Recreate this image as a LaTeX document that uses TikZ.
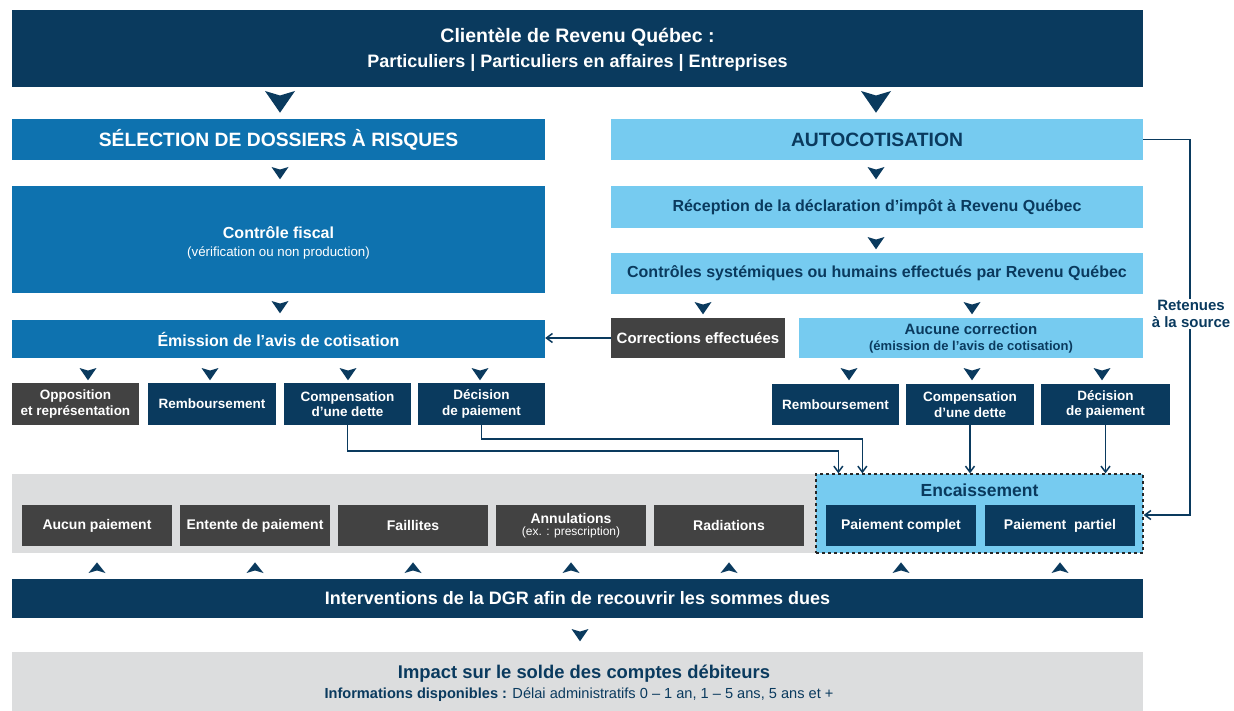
\documentclass[tikz,border=0pt]{standalone}
\usepackage{fontspec}
\setmainfont{Liberation Sans}
\usetikzlibrary{arrows.meta}
\definecolor{navy}{HTML}{0A3A5E}
\definecolor{midblue}{HTML}{0E72AF}
\definecolor{lightblue}{HTML}{76CBF0}
\definecolor{darkgray}{HTML}{424242}
\definecolor{bandgray}{HTML}{DCDDDE}
\tikzset{
  box/.style={inner sep=0pt, align=center, font=\bfseries},
  navybox/.style={box, fill=navy, text=white},
  midbox/.style={box, fill=midblue, text=white},
  lightbox/.style={box, fill=lightblue, text=navy},
  graybox/.style={box, fill=darkgray, text=white},
  txt/.style={inner sep=0pt, align=center, font=\bfseries},
  conn/.style={draw=navy, line width=1.5pt, -{Straight Barb[length=6pt,width=9pt]}},
  chev/.pic={\fill[navy] (-1,0) -- (0,0.3) -- (1,0) -- (0,1.45) -- cycle;},
  chevup/.pic={\fill[navy] (-1,0) -- (0,-0.3) -- (1,0) -- (0,-1.25) -- cycle;},
}
\newcommand{\fs}[2]{\fontsize{#1}{#2}\selectfont}
\begin{document}
\begin{tikzpicture}[x=1pt,y=-1pt]
\useasboundingbox (0,0) rectangle (1234,711);
\fill[white] (0,0) rectangle (1234,711);

% top banner
\node[navybox, minimum width=1131pt, minimum height=77pt] (top) at (577.5,48.5) {};
\node[txt, text=white, font=\bfseries\fs{19.5}{24}] (t1) at (577.5,37) {Clientèle de Revenu Québec :};
\node[txt, text=white, font=\bfseries\fs{18}{22}] (t2) at (577.5,63) {Particuliers | Particuliers en affaires | Entreprises};
\pic[scale=15] at (280,91) {chev};
\pic[scale=15] at (876,91) {chev};

% level 1
\node[midbox, minimum width=533pt, minimum height=41pt, font=\bfseries\fs{19.3}{22}] (sel) at (278.5,139.5) {SÉLECTION DE DOSSIERS À RISQUES};
\node[lightbox, minimum width=532pt, minimum height=41pt, font=\bfseries\fs{19.3}{22}] (auto) at (877,139.5) {AUTOCOTISATION};
\pic[scale=8.5] at (280,167) {chev};
\pic[scale=8.5] at (876,167) {chev};

% left column
\node[midbox, minimum width=533pt, minimum height=107pt] (cf) at (278.5,239.5) {};
\node[txt, text=white, font=\bfseries\fs{16}{20}] (cft) at (278.5,233) {Contrôle fiscal};
\node[txt, text=white, font=\fs{13.3}{16}] (cfs) at (278.5,253) {(vérification ou non production)};
\pic[scale=8.5] at (280,301) {chev};
\node[midbox, minimum width=533pt, minimum height=38pt, font=\bfseries\fs{16}{20}] (emis) at (278.5,339) {Émission de l’avis de cotisation};

% right column
\node[lightbox, minimum width=532pt, minimum height=42pt, font=\bfseries\fs{16}{20}] (rec) at (877,207) {Réception de la déclaration d’impôt à Revenu Québec};
\pic[scale=8.5] at (876,237) {chev};
\node[lightbox, minimum width=532pt, minimum height=41pt, font=\bfseries\fs{16}{20}] (csys) at (877,273.5) {Contrôles systémiques ou humains effectués par Revenu Québec};
\pic[scale=8.5] at (703,302) {chev};
\pic[scale=8.5] at (972,302) {chev};
\node[graybox, minimum width=174pt, minimum height=40pt, font=\bfseries\fs{15}{18}] (corr) at (698,338) {Corrections effectuées};
\node[lightbox, minimum width=344pt, minimum height=40pt] (auc) at (971,338) {};
\node[txt, text=navy, font=\bfseries\fs{15}{18}] (auct) at (971,329) {Aucune correction};
\node[txt, text=navy, font=\bfseries\fs{13}{16}] (aucs) at (971,347) {(émission de l’avis de cotisation)};
\draw[conn] (corr.west) -- (corr.west -| emis.east);

% left small boxes
\foreach \x in {88,210,348,480} {\pic[scale=8.5] at (\x,368) {chev};}
\node[graybox, minimum width=127pt, minimum height=42pt, font=\bfseries\fs{13.5}{15.5}] (oppL) at (75.5,404) {Opposition\\et représentation};
\node[navybox, minimum width=128pt, minimum height=42pt, font=\bfseries\fs{13.5}{15.5}] (rembL) at (212,404) {Remboursement};
\node[navybox, minimum width=127pt, minimum height=42pt, font=\bfseries\fs{13.5}{15.5}] (compL) at (347.5,404) {Compensation\\d’une dette};
\node[navybox, minimum width=127pt, minimum height=42pt, font=\bfseries\fs{13.5}{15.5}] (decL) at (481.5,404) {Décision\\de paiement};

% right small boxes
\foreach \x in {849,972,1102} {\pic[scale=8.5] at (\x,368) {chev};}
\node[navybox, minimum width=127pt, minimum height=41pt, font=\bfseries\fs{13.5}{15.5}] (rembR) at (835.5,404.5) {Remboursement};
\node[navybox, minimum width=128pt, minimum height=41pt, font=\bfseries\fs{13.5}{15.5}] (compR) at (970,404.5) {Compensation\\d’une dette};
\node[navybox, minimum width=129pt, minimum height=41pt, font=\bfseries\fs{13.5}{15.5}] (decR) at (1105.5,404.5) {Décision\\de paiement};

% band
\fill[bandgray] (12,474) rectangle (1143,553);
\node[box, fill=lightblue, draw=black!85, dashed, line width=1.3pt, minimum width=327pt, minimum height=79pt] (enc) at (979.5,513.5) {};
\node[txt, text=navy, font=\bfseries\fs{17.5}{20}] (enct) at (979.5,490) {Encaissement};

\node[graybox, minimum width=150pt, minimum height=41pt, font=\bfseries\fs{14}{16}] (g1) at (97,525.5) {Aucun paiement};
\node[graybox, minimum width=150pt, minimum height=41pt, font=\bfseries\fs{14}{16}] (g2) at (255,525.5) {Entente de paiement};
\node[graybox, minimum width=150pt, minimum height=41pt, font=\bfseries\fs{14}{16}] (g3) at (413,525.5) {Faillites};
\node[graybox, minimum width=150pt, minimum height=41pt] (g4) at (571,525.5) {{\fs{14}{16}Annulations}\\{\mdseries\fs{12}{13}(ex. : prescription)}};
\node[graybox, minimum width=150pt, minimum height=41pt, font=\bfseries\fs{14}{16}] (g5) at (729,525.5) {Radiations};
\node[navybox, minimum width=150pt, minimum height=41pt, font=\bfseries\fs{14}{16}] (pc) at (901,525.5) {Paiement complet};
\node[navybox, minimum width=150pt, minimum height=41pt, font=\bfseries\fs{14}{16}] (pp) at (1060,525.5) {Paiement\ \ partiel};

% connectors to Encaissement
\draw[conn] (compL.south) -- ++(0,26) -| ([xshift=23pt]enc.north west);
\draw[conn] (decL.south) -- ++(0,14) -| ([xshift=47pt]enc.north west);
\draw[conn] (compR.south) -- (compR.south |- enc.north);
\draw[conn] (decR.south) -- (decR.south |- enc.north);
\coordinate (retc) at (1190,139.5);
\draw[conn] (auto.east) -- (retc) |- ([yshift=-1.5pt]enc.east);
\node[box, fill=white, text=navy, font=\bfseries\fs{15}{17}, inner sep=1.5pt] (ret) at (1191,314) {Retenues\\à la source};

% up chevrons
\foreach \x in {97,255,413,571,729,901,1060} {\pic[scale=8.5] at (\x,573) {chevup};}

% interventions
\node[navybox, minimum width=1131pt, minimum height=39pt, font=\bfseries\fs{18}{22}] (dgr) at (577.5,598) {Interventions de la DGR afin de recouvrir les sommes dues};
\pic[scale=8.5] at (580,629) {chev};

% impact
\node[box, fill=bandgray, minimum width=1131pt, minimum height=59pt, anchor=north] (imp) at (577.5,652) {};
\node[txt, text=navy, font=\bfseries\fs{18.4}{22}] (impt) at (584,674) {Impact sur le solde des comptes débiteurs};
\node[txt, text=navy, font=\fs{14.6}{17}] (imps) at (579,695) {\textbf{Informations disponibles :} Délai administratifs 0 – 1 an, 1 – 5 ans, 5 ans et +};
\end{tikzpicture}
\end{document}
